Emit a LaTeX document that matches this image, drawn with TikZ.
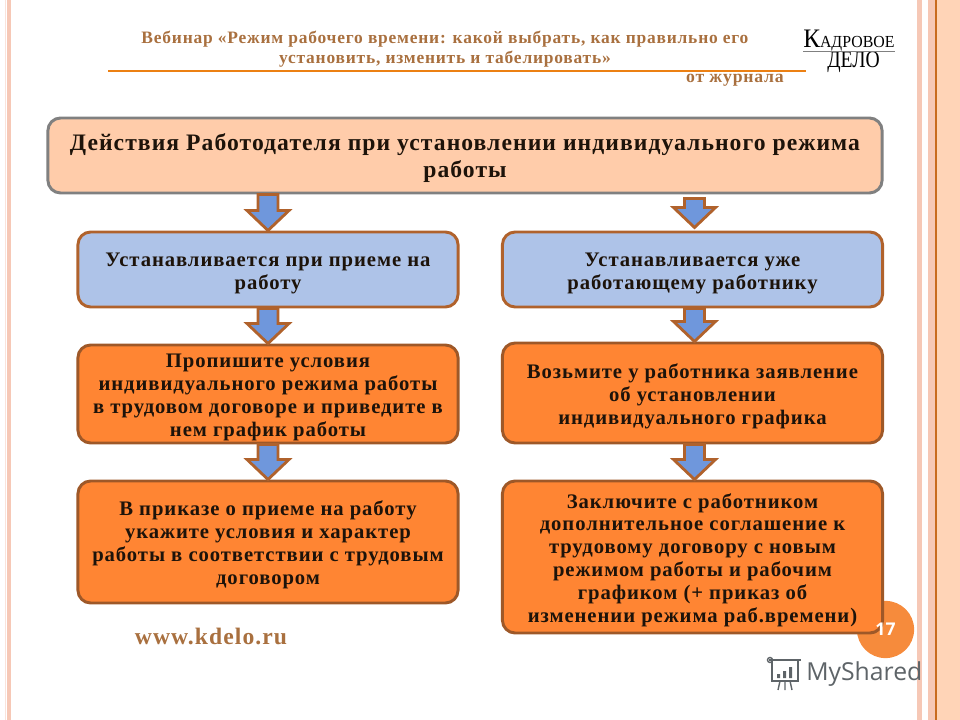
\documentclass[tikz,border=0pt]{standalone}
\usepackage{fontspec}
\setmainfont{Liberation Serif}
\setsansfont{Open Sans}
\newfontfamily\boxfont[LetterSpace=4.5]{Liberation Serif}
\usetikzlibrary{calc}

\definecolor{peachfill}{HTML}{FFCCAA}
\definecolor{skyfill}{HTML}{AEC3E8}
\definecolor{orangefill}{HTML}{FF8533}
\definecolor{brownline}{HTML}{B0622C}
\definecolor{arrowblue}{HTML}{6F97DC}
\definecolor{stripepink}{HTML}{F6C8B6}
\definecolor{titletan}{HTML}{A9703F}
\definecolor{circleorange}{HTML}{F68B3C}
\definecolor{logogray}{HTML}{5E6468}

\newcommand{\boxlift}{\rule{0pt}{15pt}}

\tikzset{
  x=0.025cm,y=-0.025cm,
  textbox/.style={draw=brownline,line width=2.1pt,rounded corners=9pt,minimum width=9.5cm,align=center,
    inner xsep=0pt,inner ysep=0pt,font=\boxfont\fontsize{14.7}{16.3}\selectfont\bfseries,text=black!85!brown},
  skybox/.style={textbox,fill=skyfill},
  orangebox/.style={textbox,fill=orangefill,draw=brownline!90!black},
  blockarrow/.style={draw=brownline,line width=2pt,fill=arrowblue,line join=miter,
    to path={let \p1=(\tikztostart),\p2=(\tikztotarget) in
      (\x1-10*0.025cm,\y1) -- (\x1-10*0.025cm,\y2+20*0.025cm) -- (\x1-21*0.025cm,\y2+20*0.025cm)
      -- (\x2,\y2) -- (\x1+21*0.025cm,\y2+20*0.025cm) -- (\x1+10*0.025cm,\y2+20*0.025cm) -- (\x1+10*0.025cm,\y1) -- cycle}}
}

\begin{document}
\begin{tikzpicture}
\useasboundingbox (0,0) rectangle (960,720);

%page stripes
\fill[stripepink!50!white] (5,0) rectangle (6,720);
\fill[stripepink] (7,0) rectangle (11,720);
\fill[stripepink] (917,0) rectangle (922,720);
\fill[stripepink] (928,0) rectangle (935,720);
\fill[peachfill!85!white] (937,0) rectangle (960,720);
\fill[brownline!70!orange] (935,0) rectangle (937,720);

%slide heading
\node[align=center,text=titletan,font=\boxfont\fontsize{12.4}{14}\selectfont\bfseries] (webinar) at (445,49)
  {Вебинар «Режим рабочего времени: какой выбрать, как правильно его\\установить, изменить и табелировать»};
\draw[orange!70!brown,line width=1.5pt] (108,71) -- (806,71);
\node[text=titletan,font=\boxfont\fontsize{12.6}{14}\selectfont\bfseries] (journal) at (735,80) {от журнала};

%logo
\node[anchor=base west,inner sep=0pt] (logotop) at (803,47.5)
  {\scalebox{0.94}[1]{\fontsize{19}{20}\selectfont К\fontsize{12}{14}\selectfont АДРОВОЕ}};
\node[anchor=base west,inner sep=0pt] (logobottom) at (827,68)
  {\scalebox{0.82}[1]{\fontsize{17}{18}\selectfont ДЕЛО}};
\draw[black!50,line width=0.4pt] (logotop.south west) -- (logotop.south east);

%boxes
\node[textbox,fill=peachfill,draw=gray,minimum width=20.85cm,minimum height=1.875cm,
  font=\boxfont\fontsize{16.8}{19}\selectfont\bfseries] (action) at (465,155.5)
  {\rule{0pt}{16pt}Действия Работодателя при установлении индивидуального режима\\работы};
\node[skybox,minimum height=1.875cm] (hiring) at (268,269.5) {\boxlift Устанавливается при приеме на\\работу};
\node[skybox,minimum height=1.875cm] (working) at (692.5,269.5) {\boxlift Устанавливается уже\\работающему работнику};
\node[orangebox,minimum height=2.45cm] (contract) at (268,394) {\boxlift Пропишите условия\\индивидуального режима работы\\в трудовом договоре и приведите в\\нем график работы};
\node[orangebox,minimum height=2.5cm] (request) at (692.5,393) {\boxlift Возьмите у работника заявление\\об установлении\\индивидуального графика};
\node[orangebox,minimum height=3.05cm] (order) at (268,542) {\boxlift В приказе о приеме на работу\\укажите условия и характер\\работы в соответствии с трудовым\\договором};

\node[circle,fill=circleorange,minimum size=1.43cm] (pagecircle) at (885.5,629.5) {};
\node[orangebox,minimum height=3.8cm] (agreement) at (692.5,557) {\boxlift Заключите с работником\\дополнительное соглашение к\\трудовому договору с новым\\режимом работы и рабочим\\графиком (+ приказ об\\изменении режима раб.времени)};
\node[text=white,inner sep=0pt,font=\sffamily\bfseries\fontsize{12.5}{14}\selectfont] (pagenum) at (pagecircle) {17};

%arrows between boxes
\draw[blockarrow] (hiring.north |- action.south) to (hiring.north);
\draw[blockarrow] ($(working.north |- action.south)+(2,4)$) to ($(working.north)+(2,-3)$);
\draw[blockarrow] (hiring.south) to (contract.north);
\draw[blockarrow] ($(working.south)+(2,0)$) to ($(request.north)+(2,0)$);
\draw[blockarrow] (contract.south) to (order.north);
\draw[blockarrow] ($(request.south)+(2,0)$) to ($(agreement.north)+(2,0)$);

%site and watermark
\node[text=titletan,font=\boxfont\fontsize{16.8}{18}\selectfont\bfseries] (site) at (211,636) {www.kdelo.ru};
\node[anchor=west,text=logogray,font=\sffamily\fontsize{17.6}{20}\selectfont,inner sep=0pt] (myshared) at (806,674) {MyShared};
\draw[logogray,line width=1.1pt] (772,661) -- (772,681) -- (798,681) -- (798,661);
\draw[logogray,line width=1.3pt] (769,660) -- (801,660);
\draw[logogray,line width=1pt] (770,660) circle (2.5);
\fill[logogray] (777,674) rectangle (780,678) (783,671) rectangle (786,678) (789,667) rectangle (792,678);
\draw[logogray,line width=1pt] (780,681) -- (778,690) (785,681) -- (785,690) (790,681) -- (792,690);

\end{tikzpicture}
\end{document}
